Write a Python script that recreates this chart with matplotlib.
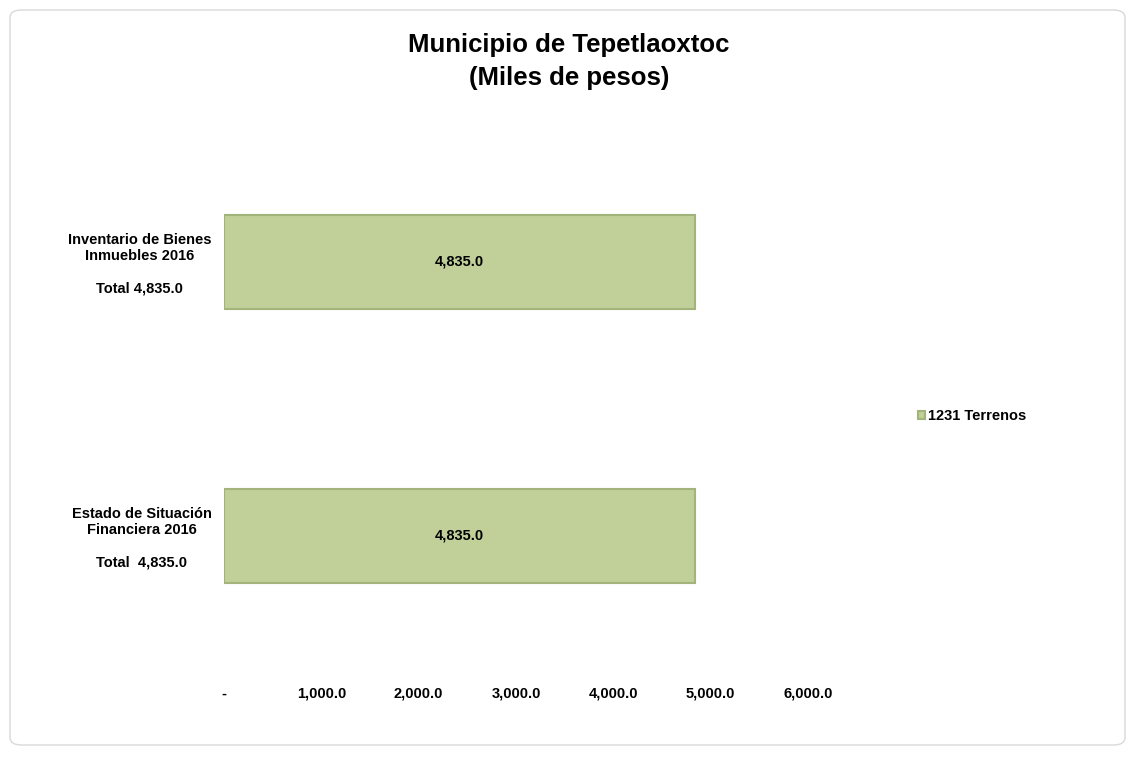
import matplotlib
matplotlib.use("Agg")
import matplotlib.pyplot as plt
from matplotlib.patches import FancyBboxPatch
from matplotlib import font_manager

categories = ["Inventario de Bienes\nInmuebles 2016\n\nTotal 4,835.0",
              "Estado de Situación\nFinanciera 2016\n\nTotal  4,835.0"]
values = [4835.0, 4835.0]
series_name = "1231 Terrenos"
xticks = [0, 1000, 2000, 3000, 4000, 5000, 6000]
xtick_labels = ["-", "1,000.0", "2,000.0", "3,000.0", "4,000.0", "5,000.0", "6,000.0"]

names = {f.name for f in font_manager.fontManager.ttflist}
fam = "Liberation Sans Narrow" if "Liberation Sans Narrow" in names else "Liberation Sans"
plt.rcParams['font.family'] = [fam, 'DejaVu Sans']

W, H = 1133, 757
fig = plt.figure(figsize=(W/100, H/100), dpi=100)
frame = FancyBboxPatch((10/W, 12/H), 1115/W, 735/H,
                       boxstyle="round,pad=0,rounding_size=0.01",
                       transform=fig.transFigure, facecolor='white',
                       edgecolor='#D9D9D9', linewidth=1, zorder=-10)
fig.patches.append(frame)

ax = fig.add_axes([224/W, 1-673/H, (808-224)/W, (673-125)/H])
ax.set_facecolor('none')
ax.set_zorder(2)
ypos = [1, 0]
bars = ax.barh(ypos, values, height=0.343, color='#C0D098', edgecolor='#A2B47B',
               linewidth=1.5, label=series_name)
for y, v in zip(ypos, values):
    ax.text(v/2, y, f"{v:,.1f}", ha='center', va='center', fontsize=10.5, fontweight='bold')

ax.set_xlim(0, 6000)
ax.set_ylim(-0.5, 1.5)
ax.set_xticks(xticks)
ax.set_xticklabels(xtick_labels, fontsize=10.5, fontweight='bold')
ax.set_yticks(ypos)
ax.set_yticklabels(categories, fontsize=10.5, fontweight='bold', multialignment='center')
ax.tick_params(axis='both', length=0)
ax.tick_params(axis='y', pad=9)
ax.tick_params(axis='x', pad=10)
for s in ax.spines.values():
    s.set_visible(False)

fig.text(569/W, 1-45/H, "Municipio de Tepetlaoxtoc", ha='center', va='center',
         fontsize=18.5, fontweight='bold')
fig.text(569/W, 1-78/H, "(Miles de pesos)", ha='center', va='center',
         fontsize=18.5, fontweight='bold')

fig.legend(handles=[bars], labels=[series_name], loc='center left',
           bbox_to_anchor=(905/W, 1-416/H), frameon=False,
           prop={'weight': 'bold', 'size': 10.5}, handlelength=0.5, handleheight=0.5,
           handletextpad=0.2)

fig.savefig("out.png", dpi=100)
